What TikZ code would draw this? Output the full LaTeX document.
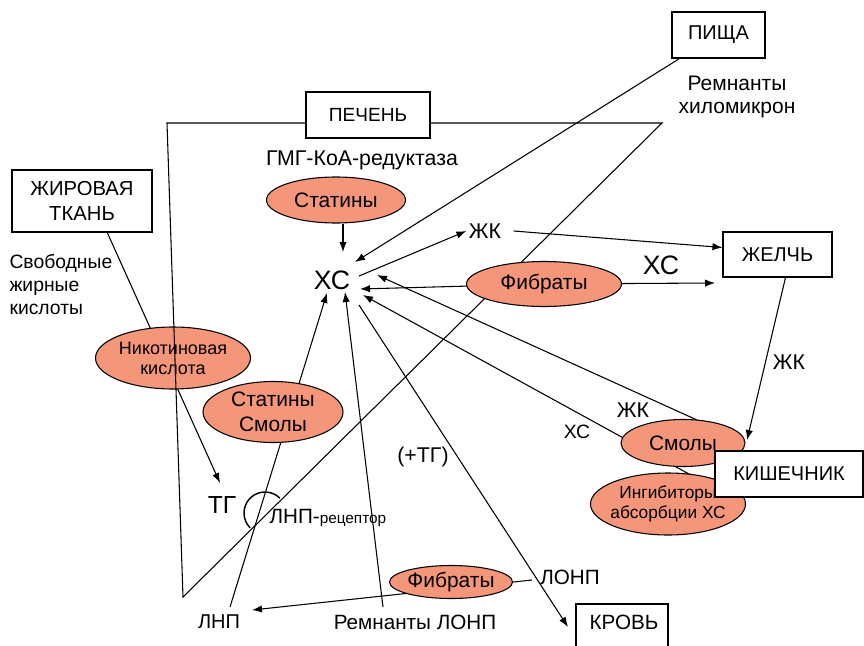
\documentclass[tikz,border=0pt]{standalone}
\usepackage{fontspec}
\setmainfont{Liberation Sans}
\usetikzlibrary{shapes.geometric,arrows.meta,calc}
\definecolor{salm}{RGB}{244,150,122}
\newcommand\fsz[2]{\fontsize{#1pt}{#2pt}\selectfont}
\begin{document}
\begin{tikzpicture}[x=0.75pt,y=-0.75pt,
  line width=0.8pt,
  arr/.style={-{Latex[length=7.5pt,width=5.5pt]}},
  box/.style={draw, fill=white, inner sep=0pt, font=\fsz{15}{18}},
  ell/.style={ellipse, draw, fill=salm, inner sep=0pt},
  lbl/.style={inner sep=0pt, align=center},
  txt/.style={inner sep=0pt, font=\fsz{15.5}{18}},
  big/.style={inner sep=0pt, font=\fsz{20}{22}},
]
\clip (0,0) rectangle (864,646);

% ---- text labels used as connector ends
\node[big] (xc) at (332,280) {ХС};
\node[big] (xc2) at (661,265) {ХС};
\node[txt, font=\fsz{16}{18}] (zk1) at (485,231) {ЖК};
\node[txt] (krov) at (624,622) {КРОВЬ};
\node[txt, font=\fsz{15}{18}] (lnp) at (219,622) {ЛНП};
\node[txt] (remn) at (415,622) {Ремнанты ЛОНП};
\node[txt] (lonp) at (570,577) {ЛОНП};

% ---- coordinates at arrow tips / free ends
\coordinate (tS) at (343,252);
\coordinate (tP) at (355,262);
\coordinate (oZ) at (359,276);
\coordinate (tF) at (360,289);
\coordinate (tJ) at (377,275);
\coordinate (tH) at (363,295);
\coordinate (oK) at (359,305);
\coordinate (tR) at (345,292);
\coordinate (tL) at (327,293);
\coordinate (tK) at (568,627);
\coordinate (tTG) at (220,483);
\coordinate (tLN) at (252,610);
\coordinate (fR) at (715,283);
\coordinate (tKi) at (747,440);

% ---- box geometry (anchors); boxes are drawn on top later
\path (368,115) node[minimum width=93pt, minimum height=34.5pt, inner sep=0pt] (pech) {};
\path (82,201) node[minimum width=105pt, minimum height=46.5pt, inner sep=0pt] (zhir) {};
\path (718.5,35) node[minimum width=69.75pt, minimum height=34.5pt, inner sep=0pt] (pish) {};
\path (777.5,254.5) node[minimum width=81.75pt, minimum height=33.75pt, inner sep=0pt] (zhel) {};
\path (789,474) node[minimum width=111pt, minimum height=34.5pt, inner sep=0pt] (kish) {};

% ---- connectors behind the ellipses
\draw[arr] ($(pish.south west)+(8,0)$) -- (tP);
\draw[arr] (oZ) -- ($(zk1.west)+(-2,0)$);
\draw[arr] ($(zk1.east)+(12,0)$) -- ($(zhel.west)+(0,-7)$);
\draw[arr] (544,284) -- (tF);
\draw[arr] (544,284) -- (fR);
\draw[arr] (697,420) -- (tJ);
\draw[arr] ($(kish.west)+(0,14)$) -- (tH);
\draw[arr] (oK) -- (tK);
\draw[arr] (383,607) -- (tR);
\draw[arr] (230,607) -- (tL);
\draw[arr] (107,232) -- (tTG);
\draw[arr] (532,580) -- (tLN);
\draw[line width=1.1pt] (265,513) ++(-45:21) arc[start angle=-45, end angle=-225, radius=21];

% ---- Nicotinic acid ellipse, then the liver triangle over it
\node[ell, minimum width=116.25pt, minimum height=46.5pt,
  label={[lbl,font=\fsz{13.5}{15}]center:Никотиновая\\кислота}] (nik) at (173,358) {};
\draw ($(pech.west)+(0,8)$) -- (167,123) -- (183,597) -- (662,123) -- ($(pech.east)+(0,8)$);

% ---- other ellipses
\node[ell, minimum width=104.25pt, minimum height=34.5pt,
  label={[lbl,font=\fsz{15.7}{18}]center:Статины}] (stat1) at (336,200) {};
\draw[arr] (stat1.south -| tS) -- (tS);
\node[ell, minimum width=105pt, minimum height=45.75pt,
  label={[lbl,font=\fsz{15.7}{18.5}]center:Статины\\Смолы}] (statsm) at (273,412) {};
\node[ell, minimum width=116.25pt, minimum height=33.75pt,
  label={[lbl,font=\fsz{15.7}{18}]center:Фибраты}] (fib1) at (544,284) {};
\node[ell, minimum width=93pt, minimum height=35.25pt,
  label={[lbl,font=\fsz{15.7}{18}]center:Смолы}] (smol) at (683,443) {};
\node[ell, minimum width=116.25pt, minimum height=46.5pt,
  label={[lbl,font=\fsz{13}{15}]center:Ингибиторы\\абсорбции ХС}] (ing) at (668,504) {};
\node[ell, minimum width=92.25pt, minimum height=24.75pt,
  label={[lbl,font=\fsz{15.7}{18}]center:Фибраты}] (fib2) at (451,582) {};

\draw[arr] ($(zhel.south)+(8,0)$) -- (tKi);

% ---- boxes on top
\node[box, minimum width=93pt, minimum height=34.5pt, font=\fsz{14.3}{17}] at (pech) {ПЕЧЕНЬ};
\node[box, minimum width=105pt, minimum height=46.5pt, align=center, font=\fsz{15.2}{18.75}] at (zhir) {ЖИРОВАЯ\\ТКАНЬ};
\node[box, minimum width=69.75pt, minimum height=34.5pt] at (pish) {ПИЩА};
\node[box, minimum width=81.75pt, minimum height=33.75pt] at (zhel) {ЖЕЛЧЬ};
\node[box, minimum width=111pt, minimum height=34.5pt] at (kish) {КИШЕЧНИК};
\draw (576,660) -- (576,604) -- (668,604) -- (668,660);

% ---- free labels
\node[txt, font=\fsz{16}{18}] (gmg) at (362,160) {ГМГ-КоА-редуктаза};
\node[txt, align=left, anchor=west, font=\fsz{14.5}{17.25}] (svob) at (9,285) {Свободные\\жирные\\кислоты};
\node[txt, align=center, font=\fsz{15.75}{17.25}] (remx) at (737,97) {Ремнанты\\хиломикрон};
\node[txt, font=\fsz{16}{18}] (zk2) at (789,362) {ЖК};
\node[txt, font=\fsz{16}{18}] (zk3) at (633,410) {ЖК};
\node[txt, font=\fsz{14.5}{18}] (xc3) at (577,432) {ХС};
\node[txt, font=\fsz{16}{18}] (ptg) at (423,457) {(+ТГ)};
\node[txt, font=\fsz{18.5}{20}] (tg) at (222,505) {ТГ};
\node[txt, anchor=west] (lnpr) at (269,518) {ЛНП-{\fsz{11.5}{13}рецептор}};
\end{tikzpicture}
\end{document}
